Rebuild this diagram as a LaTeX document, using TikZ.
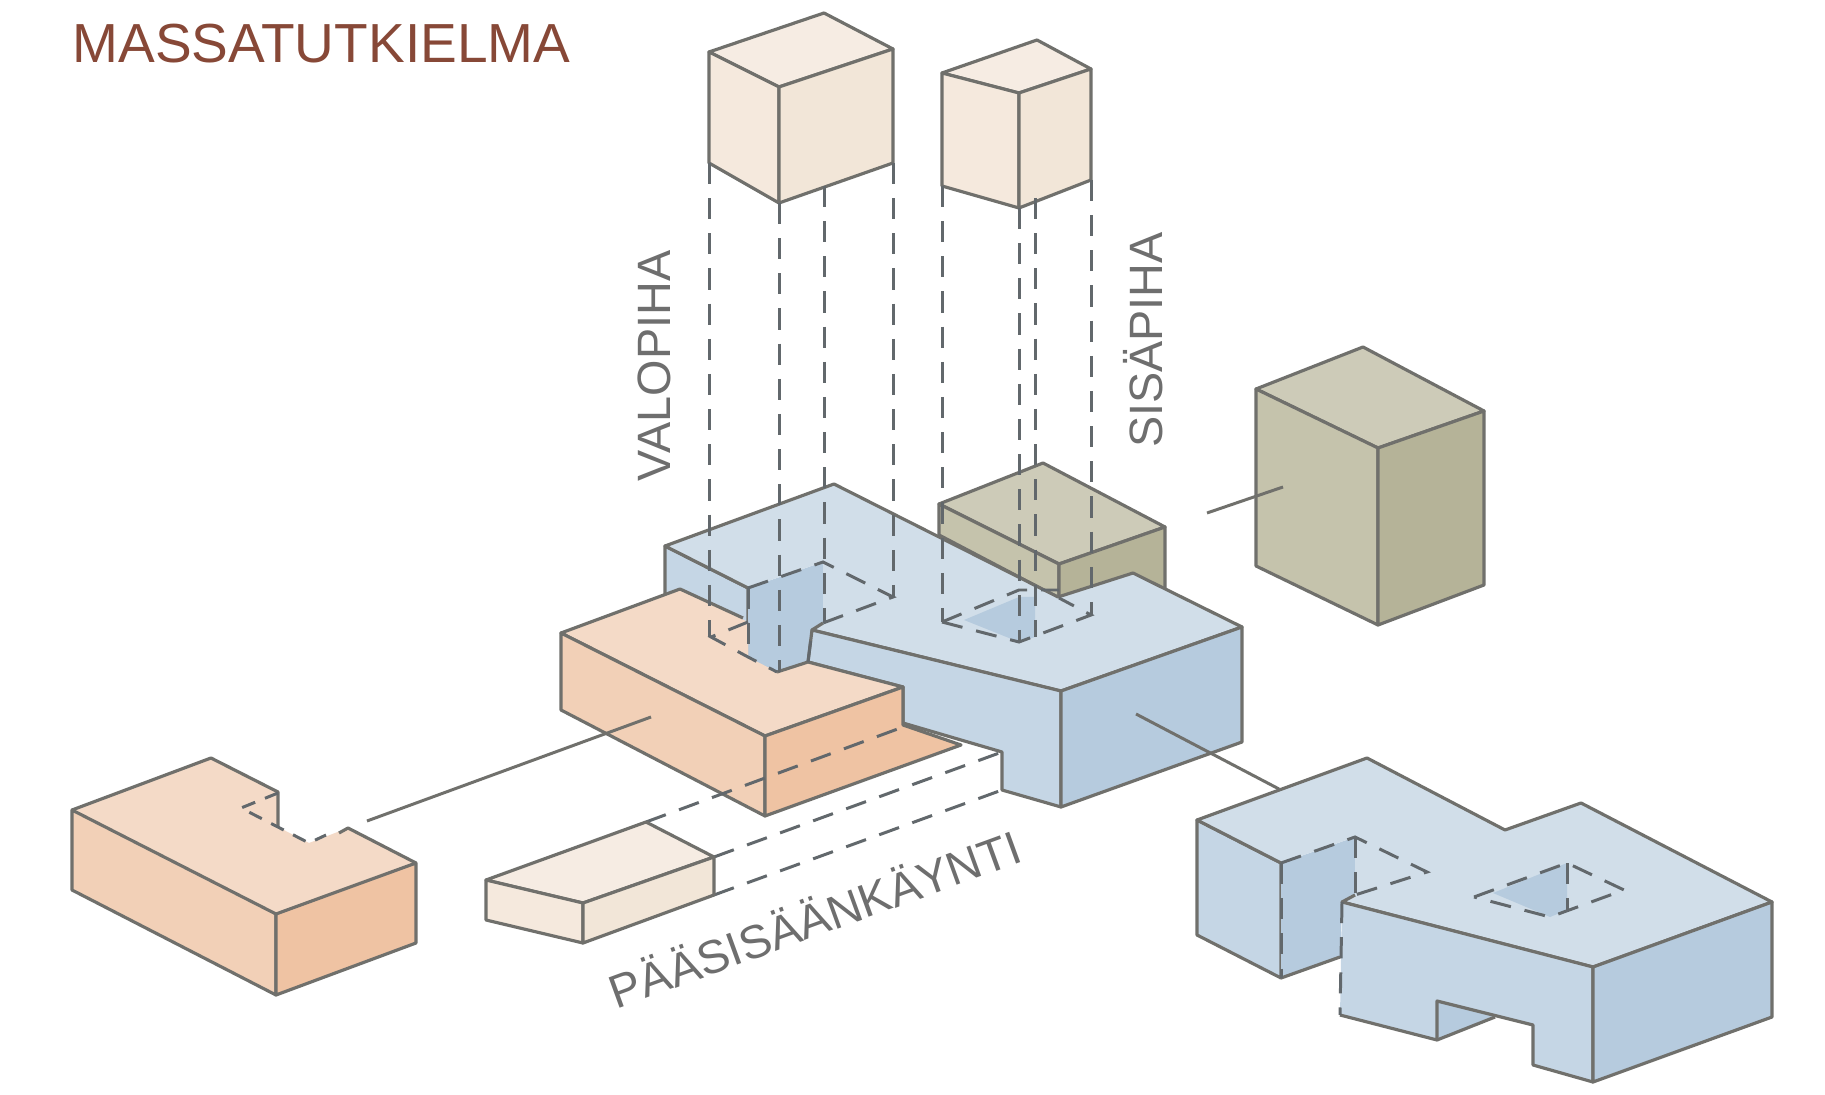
\documentclass[tikz,border=0pt]{standalone}
\usepackage{fontspec}
\setmainfont{Liberation Sans}
\definecolor{edgegrey}{RGB}{112, 112, 108}
\definecolor{dashgrey}{RGB}{98, 104, 108}
\definecolor{titlebrown}{RGB}{135, 72, 55}
\definecolor{labelgrey}{RGB}{110, 110, 110}
\definecolor{bluetop}{RGB}{209, 222, 233}
\definecolor{bluefront}{RGB}{197, 214, 229}
\definecolor{blueside}{RGB}{182, 203, 222}
\definecolor{orangetop}{RGB}{244, 218, 199}
\definecolor{orangefront}{RGB}{242, 208, 183}
\definecolor{orangeside}{RGB}{239, 195, 163}
\definecolor{olivetop}{RGB}{205, 203, 184}
\definecolor{olivefront}{RGB}{197, 195, 172}
\definecolor{oliveside}{RGB}{181, 179, 152}
\definecolor{creamtop}{RGB}{246, 236, 227}
\definecolor{creamfront}{RGB}{245, 233, 221}
\definecolor{creamside}{RGB}{242, 230, 216}
\usetikzlibrary{positioning}
\tikzset{
    massedge/.style={draw=edgegrey, line width=0.9pt, line join=round},
    hiddenedge/.style={draw=dashgrey, line width=0.85pt, dash pattern=on 6pt off 4pt},
    pullline/.style={draw=edgegrey, line width=0.85pt},
    sidelabel/.style={text=labelgrey, inner sep=0pt}
}

\begin{document}
\begin{tikzpicture}[x=0.01cm, y=-0.01cm]
    \useasboundingbox (0,0) rectangle (1825,1095);
    \fill[white] (0,0) rectangle (1825,1095);

    % pull-out lines
    \coordinate (orangeEnd) at (651,717);
    \coordinate (orangeFar) at (367,821);
    \coordinate (blueEnd) at (1136,714);
    \coordinate (blueFar) at (1279,789);
    \coordinate (oliveEnd) at (1283,487);
    \coordinate (oliveFar) at (1207,513);

    % lifted courtyard volumes
    \draw[massedge, fill=creamtop] (709,52) -- (824,13) -- (893,49) -- (779,87) -- cycle;
    \draw[massedge, fill=creamfront] (709,52) -- (779,87) -- (779,203) -- (709,163) -- cycle;
    \draw[massedge, fill=creamside] (779,87) -- (893,49) -- (893,163) -- (779,203) -- cycle;
    \draw[massedge, fill=creamtop] (942,73) -- (1037,40) -- (1091,69) -- (1019,93) -- cycle;
    \draw[massedge, fill=creamfront] (942,73) -- (1019,93) -- (1019,208) -- (942,186) -- cycle;
    \draw[massedge, fill=creamside] (1019,93) -- (1091,69) -- (1091,180) -- (1019,208) -- cycle;

    % olive block, near the middle
    \draw[massedge, fill=olivetop] (939,504) -- (1043,463) -- (1165,527) -- (1059,564) -- cycle;
    \draw[massedge, fill=olivefront] (939,504) -- (1059,564) -- (1059,598) -- (939,535) -- cycle;
    \draw[massedge, fill=oliveside] (1059,564) -- (1165,527) -- (1165,590) -- (1059,625) -- cycle;

    % olive block, pulled out
    \draw[massedge, fill=olivetop] (1256,389) -- (1363,347) -- (1484,411) -- (1378,448) -- cycle;
    \draw[massedge, fill=olivefront] (1256,389) -- (1378,448) -- (1378,625) -- (1256,566) -- cycle;
    \draw[massedge, fill=oliveside] (1378,448) -- (1484,411) -- (1484,585) -- (1378,625) -- cycle;
    \draw[pullline] (oliveFar) -- (oliveEnd);

    % blue mass, in place
    \draw[massedge, fill=bluefront] (665,546) -- (748,588) -- (748,660) -- (665,625) -- cycle;
    \fill[blueside] (748,588) -- (823,562) -- (823,623) -- (812,630) -- (808,662) -- (777,672) -- (748,658) -- cycle;
    \fill[bluetop] (665,546) -- (834,484) -- (1058,597) -- (1133,573) -- (1242,627) -- (1061,691) -- (812,630) -- (823,623) -- (823,562) -- (748,588) -- cycle;
    \draw[massedge] (748,588) -- (665,546) -- (834,484) -- (1058,597) -- (1133,573) -- (1242,627) -- (1061,691) -- (812,630) -- (823,623);
    \draw[massedge, fill=bluefront] (812,630) -- (1061,691) -- (1061,807) -- (1002,790) -- (1002,752) -- (903,723) -- (903,687) -- (808,662) -- cycle;
    \draw[massedge, fill=blueside] (1061,691) -- (1242,627) -- (1242,742) -- (1061,807) -- cycle;
    \fill[blueside] (964,620) -- (1019,597) -- (1035,597) -- (1035,637) -- (1019,642) -- cycle;

    % orange mass, in place
    \fill[orangeside] (711,637) -- (748,622) -- (748,657) -- cycle;
    \fill[orangetop] (561,633) -- (680,589) -- (748,622) -- (748,657) -- (777,672) -- (808,662) -- (903,687) -- (765,736) -- cycle;
    \draw[massedge] (743,618) -- (680,589) -- (561,633) -- (765,736) -- (903,687) -- (808,662) -- (777,672);
    \draw[massedge, fill=orangefront] (561,633) -- (765,736) -- (765,816) -- (561,710) -- cycle;
    \draw[massedge, fill=orangeside] (765,736) -- (903,687) -- (903,725) -- (961,745) -- (765,816) -- cycle;

    % projection lines and hidden edges
    \draw[hiddenedge] (709,163) -- (709,637);
    \draw[hiddenedge] (779,203) -- (779,672);
    \draw[hiddenedge] (824,186) -- (824,623);
    \draw[hiddenedge] (893,163) -- (893,597);
    \draw[hiddenedge] (942,186) -- (942,622);
    \draw[hiddenedge] (1019,208) -- (1019,642);
    \draw[hiddenedge] (1035,198) -- (1035,637);
    \draw[hiddenedge] (1091,180) -- (1091,615);
    \draw[hiddenedge] (748,588) -- (823,562) -- (893,597) -- (823,623);
    \draw[hiddenedge] (748,588) -- (748,658);
    \draw[hiddenedge] (808,662) -- (812,630);
    \draw[hiddenedge] (748,622) -- (711,637) -- (748,657) -- (777,672);
    \draw[hiddenedge] (942,622) -- (1019,642) -- (1091,615) -- (1059,598);
    \draw[hiddenedge] (942,622) -- (1019,590) -- (1059,590);
    \draw[hiddenedge] (646,822) -- (903,727);
    \draw[hiddenedge] (714,857) -- (1002,752);
    \draw[hiddenedge] (714,895) -- (1002,790);
    \draw[pullline] (orangeFar) -- (orangeEnd);
    \draw[pullline] (blueEnd) -- (blueFar);

    % orange mass, pulled out
    \fill[orangeside] (241,808) -- (278,793) -- (278,827) -- cycle;
    \fill[orangetop] (72,810) -- (211,758) -- (278,792) -- (278,827) -- (309,843) -- (348,828) -- (416,863) -- (276,914) -- cycle;
    \draw[massedge] (278,827) -- (278,792) -- (211,758) -- (72,810);
    \draw[massedge] (339,833) -- (348,828) -- (416,863);
    \draw[massedge, fill=orangefront] (72,810) -- (276,914) -- (276,995) -- (72,890) -- cycle;
    \draw[massedge, fill=orangeside] (276,914) -- (416,863) -- (416,943) -- (276,995) -- cycle;
    \draw[hiddenedge, dash pattern=on 4pt off 3pt] (278,793) -- (241,808) -- (309,843) -- (326,835);

    % entrance canopy
    \draw[massedge, fill=creamtop] (486,880) -- (646,822) -- (714,857) -- (583,903) -- cycle;
    \draw[massedge, fill=creamfront] (486,880) -- (583,903) -- (583,943) -- (486,920) -- cycle;
    \draw[massedge, fill=creamside] (583,903) -- (714,857) -- (714,895) -- (583,943) -- cycle;

    % blue mass, pulled out
    \draw[massedge, fill=bluefront] (1197,820) -- (1281,863) -- (1281,978) -- (1197,935) -- cycle;
    \fill[blueside] (1281,863) -- (1355,837) -- (1355,895) -- (1342,902) -- (1340,957) -- (1281,978) -- cycle;
    \draw[massedge] (1281,978) -- (1340,957);
    \fill[bluetop] (1197,820) -- (1367,758) -- (1505,830) -- (1581,803) -- (1772,902) -- (1593,967) -- (1342,902) -- (1355,895) -- (1355,837) -- (1281,863) -- cycle;
    \draw[massedge] (1281,863) -- (1197,820) -- (1367,758) -- (1505,830) -- (1581,803) -- (1772,902) -- (1593,967) -- (1342,902) -- (1355,895);
    \fill[blueside] (1437,1001) -- (1495,1017) -- (1437,1040) -- cycle;
    \fill[bluefront] (1342,902) -- (1593,967) -- (1593,1082) -- (1533,1065) -- (1533,1025) -- (1437,1001) -- (1437,1040) -- (1340,1015) -- cycle;
    \draw[massedge] (1342,902) -- (1593,967) -- (1593,1082) -- (1533,1065) -- (1533,1025) -- (1437,1001) -- (1437,1040) -- (1340,1015);
    \draw[massedge] (1437,1040) -- (1495,1017);
    \draw[massedge, fill=blueside] (1593,967) -- (1772,902) -- (1772,1017) -- (1593,1082) -- cycle;
    \fill[blueside] (1493,893) -- (1567,863) -- (1567,910) -- (1550,917) -- cycle;
    \draw[hiddenedge] (1281,863) -- (1355,837) -- (1427,872) -- (1355,895);
    \draw[hiddenedge] (1281,863) -- (1281,978);
    \draw[hiddenedge] (1355,837) -- (1355,895);
    \draw[hiddenedge] (1342,902) -- (1340,1015);
    \draw[hiddenedge] (1474,897) -- (1567,863) -- (1624,890) -- (1550,917) -- cycle;
    \draw[hiddenedge] (1567,863) -- (1567,910);

    % texts
    \node[text=titlebrown, font=\fontsize{15.65pt}{18pt}\selectfont, anchor=base west, inner sep=0pt] (titleLabel) at (72,63) {MASSATUTKIELMA};
    \node[sidelabel, font=\fontsize{13.3pt}{15pt}\selectfont, rotate=90] (courtLabel) at (654,366) {VALOPIHA};
    \node[sidelabel, font=\fontsize{13.3pt}{15pt}\selectfont, rotate=90] (innerLabel) at (1143,340) {SISÄPIHA};
    \node[sidelabel, font=\fontsize{13.3pt}{15pt}\selectfont, rotate=20] (entryLabel) at (814,917) {PÄÄSISÄÄNKÄYNTI};
\end{tikzpicture}
\end{document}
